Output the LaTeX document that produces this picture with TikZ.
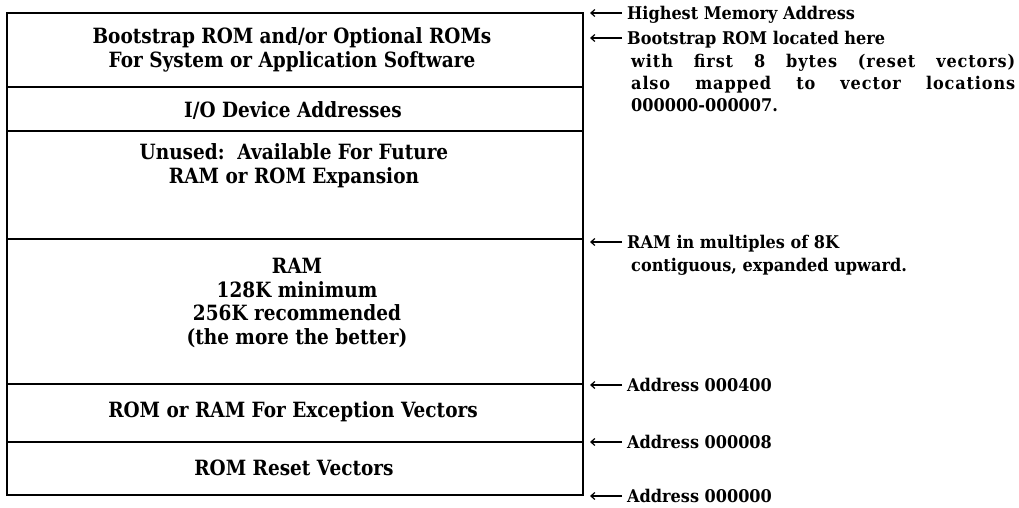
\documentclass[tikz,border=0pt]{standalone}
\usepackage{fontspec}
\newfontfamily\boxfont{DejaVu Serif}[FakeStretch=0.88]
\newfontfamily\lblfont{DejaVu Serif}[FakeStretch=0.92]
\usetikzlibrary{arrows.meta}
% spread a note line over the full column width
\newcommand{\spreadline}[1]{{\addfontfeatures{LetterSpace=5}\makebox[384pt][s]{#1}}}
\begin{document}
\begin{tikzpicture}[x=1pt, y=-1pt,
  region/.style={draw, line width=2pt, rectangle, inner sep=0pt, outer sep=0pt,
    minimum width=576pt},
  boxtext/.style={align=center, inner sep=0pt,
    font=\boxfont\bfseries\fontsize{21}{23.5}\selectfont},
  lbl/.style={anchor=west, inner sep=0pt, text height=13pt, text depth=0pt,
    font=\lblfont\bfseries\fontsize{17.5}{22}\selectfont},
  ptr/.style={-{Straight Barb[length=4pt,width=7pt]}, line width=1.2pt, shorten <=5pt}]
\useasboundingbox (0,0) rectangle (1019,508);

% memory map, highest addresses at the top
\node[region, minimum height=74pt]  (rboot)   at (295,50)    {};
\node[region, minimum height=44pt]  (rio)     at (295,109)   {};
\node[region, minimum height=108pt] (runused) at (295,185)   {};
\node[region, minimum height=145pt] (rram)    at (295,311.5) {};
\node[region, minimum height=58pt]  (rexc)    at (295,413)   {};
\node[region, minimum height=53pt]  (rreset)  at (295,468.5) {};

\node[boxtext] (tboot)   at (292,50)    {Bootstrap ROM and/or Optional ROMs\\For System or Application Software};
\node[boxtext] (tio)     at (293,110)   {I/O Device Addresses};
\node[boxtext] (tunused) at (294,165.5) {Unused:\ \ Available For Future\\RAM or ROM Expansion};
\node[boxtext] (tram)    at (297,303)   {RAM\\128K minimum\\256K recommended\\(the more the better)};
\node[boxtext] (texc)    at (293,412)   {ROM or RAM For Exception Vectors};
\node[boxtext] (treset)  at (294,468)   {ROM Reset Vectors};

% address annotations
\node[lbl] (lhigh)  at (627,13)  {Highest Memory Address};
\node[lbl] (lboot)  at (627,38)  {Bootstrap ROM located here};
\node[lbl] (lboot2) at (631,61)  {\spreadline{with first 8 bytes (reset vectors)}};
\node[lbl] (lboot3) at (631,83)  {\spreadline{also mapped to vector locations}};
\node[lbl] (lboot4) at (631,105) {000000-000007.};
\node[lbl] (lram)   at (627,242) {RAM in multiples of 8K};
\node[lbl] (lram2)  at (631,265) {contiguous, expanded upward.};
\node[lbl] (la400)  at (627,385) {Address 000400};
\node[lbl] (la008)  at (627,442) {Address 000008};
\node[lbl] (la000)  at (627,496) {Address 000000};

\coordinate (phigh) at (590,13);
\coordinate (pboot) at (590,38);
\coordinate (pram)  at (590,242);
\coordinate (p400)  at (590,385);
\coordinate (p008)  at (590,442);
\coordinate (p000)  at (590,496);

\draw[ptr] (lhigh.west) -- (phigh);
\draw[ptr] (lboot.west) -- (pboot);
\draw[ptr] (lram.west)  -- (pram);
\draw[ptr] (la400.west) -- (p400);
\draw[ptr] (la008.west) -- (p008);
\draw[ptr] (la000.west) -- (p000);
\end{tikzpicture}
\end{document}
